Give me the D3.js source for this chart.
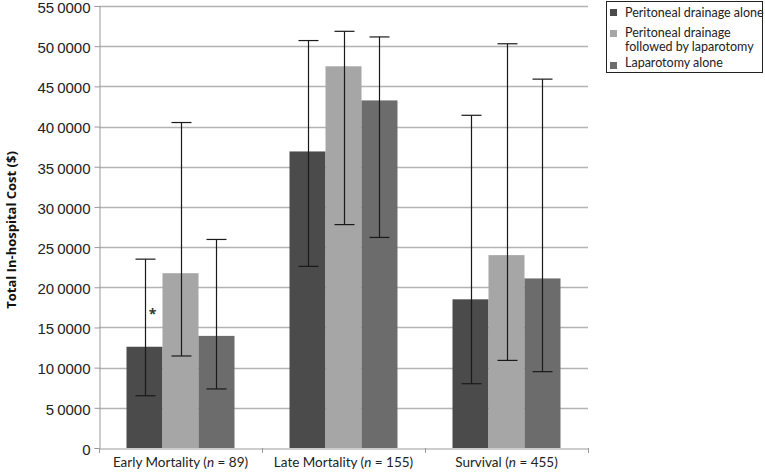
<!DOCTYPE html>
<html><head><meta charset="utf-8">
<script src="https://cdn.jsdelivr.net/npm/d3@7"></script>
<style>body{margin:0;background:#fff}svg{display:block}</style>
</head><body>
<svg id="c" width="765" height="474"></svg>
<script>
const categories = ["Early Mortality", "Late Mortality", "Survival"];
const categoryN = ["89", "155", "455"];
const series = ["Peritoneal drainage alone", "Peritoneal drainage followed by laparotomy", "Laparotomy alone"];
const legendLines = [["Peritoneal drainage alone"], ["Peritoneal drainage", "followed by laparotomy"], ["Laparotomy alone"]];
const colors = ["#4b4b4b", "#a6a6a6", "#6c6c6c"];
// mean values per category, per series
const drainageAlone = [126000, 369000, 185000];
const drainageThenLap = [217500, 475000, 240000];
const lapAlone = [139500, 432500, 211000];
// error bar lows/highs
const drainageAloneLow = [65000, 226000, 80000];
const drainageAloneHigh = [235000, 507000, 414000];
const drainageThenLapLow = [114500, 278000, 109000];
const drainageThenLapHigh = [405000, 518500, 503000];
const lapAloneLow = [73500, 262000, 95000];
const lapAloneHigh = [259500, 511500, 459000];
const yTicks = [0, 50000, 100000, 150000, 200000, 250000, 300000, 350000, 400000, 450000, 500000, 550000];
const yTickLabels = ["0", "5\u20090000", "10\u20090000", "15\u20090000", "20\u20090000", "25\u20090000", "30\u20090000", "35\u20090000", "40\u20090000", "45\u20090000", "50\u20090000", "55\u20090000"];
const asteriskCategory = "Early Mortality";
const asteriskSeries = 0;
const asteriskValue = 168000;

const values = [drainageAlone, drainageThenLap, lapAlone];
const lows = [drainageAloneLow, drainageThenLapLow, lapAloneLow];
const highs = [drainageAloneHigh, drainageThenLapHigh, lapAloneHigh];

const svg = d3.select("#c");
const pLeft = 99, pRight = 588, pTop = 6, pBottom = 448;
const font = "Lato, sans-serif";

const y = d3.scaleLinear().domain([0, 550000]).range([pBottom, pTop]);
const x0 = d3.scaleBand().domain(categories).range([pLeft, pRight]).padding(0);
const x1 = d3.scaleBand().domain(d3.range(series.length)).range([0, x0.bandwidth()]).paddingInner(0).paddingOuter(0.764);

// gridlines
svg.append("g").selectAll("line").data(yTicks.filter(d => d > 0)).join("line")
  .attr("x1", pLeft).attr("x2", pRight)
  .attr("y1", d => Math.round(y(d)) + 0.5).attr("y2", d => Math.round(y(d)) + 0.5)
  .attr("stroke", "#b3b3b3").attr("stroke-width", 1.5);

// y axis
const yAxis = d3.axisLeft(y).tickValues(yTicks).tickSize(5).tickPadding(4)
  .tickFormat((d, i) => yTickLabels[i]);
const gy = svg.append("g").attr("transform", `translate(${pLeft + 0.5},0)`).call(yAxis);
gy.select(".domain").attr("stroke", "#9a9a9a");
gy.selectAll(".tick line").attr("stroke", "#9a9a9a");
gy.selectAll(".tick text").attr("font-family", "Liberation Sans, Arial, sans-serif").attr("font-size", 15)
  .attr("dy", "0.42em").attr("fill", "#222");

// bars
const data = [];
categories.forEach((c, ci) => series.forEach((s, si) => data.push({c, si, v: values[si][ci], lo: lows[si][ci], hi: highs[si][ci]})));
svg.append("g").selectAll("rect").data(data).join("rect")
  .attr("x", d => x0(d.c) + x1(d.si))
  .attr("width", x1.bandwidth())
  .attr("y", d => y(d.v))
  .attr("height", d => y(0) - y(d.v))
  .attr("fill", d => colors[d.si]);

// x axis
const xAxis = d3.axisBottom(x0).tickSize(0).tickFormat("");
const gx = svg.append("g").attr("transform", `translate(0,${pBottom + 0.5})`).call(xAxis);
gx.select(".domain").attr("stroke", "#9a9a9a");
svg.append("g").selectAll("line").data([pLeft, ...categories.map(c => x0(c) + x0.bandwidth())]).join("line")
  .attr("x1", d => d + 0.5).attr("x2", d => d + 0.5).attr("y1", pBottom).attr("y2", pBottom + 5)
  .attr("stroke", "#9a9a9a");

// category labels
const lab = svg.append("g").selectAll("text").data(categories).join("text")
  .attr("x", c => x0(c) + x0.bandwidth() / 2).attr("y", 467)
  .attr("text-anchor", "middle").attr("font-family", font).attr("font-size", 13.5).attr("fill", "#222");
lab.each(function(c, i) {
  const t = d3.select(this);
  t.append("tspan").text(c + " (");
  t.append("tspan").attr("font-style", "italic").text("n");
  t.append("tspan").text(" = " + categoryN[i] + ")");
});

// error bars
const eb = svg.append("g").attr("stroke", "#1a1a1a").attr("stroke-width", 1.2);
data.forEach(d => {
  const cx = Math.round(x0(d.c) + x1(d.si) + x1.bandwidth() / 2) + 0.5;
  eb.append("line").attr("x1", cx).attr("x2", cx).attr("y1", y(d.hi)).attr("y2", y(d.lo));
  eb.append("line").attr("x1", cx - 10).attr("x2", cx + 10).attr("y1", y(d.hi)).attr("y2", y(d.hi));
  eb.append("line").attr("x1", cx - 10).attr("x2", cx + 10).attr("y1", y(d.lo)).attr("y2", y(d.lo));
});

// asterisk
svg.append("text")
  .attr("x", x0(asteriskCategory) + x1(asteriskSeries) + x1.bandwidth() / 2 + 8)
  .attr("y", y(asteriskValue) + 6)
  .attr("text-anchor", "middle").attr("font-family", "Open Sans, sans-serif").attr("font-size", 14).attr("font-weight", "bold").attr("fill", "#333")
  .text("*");

// y title
svg.append("text")
  .attr("transform", `translate(16,230) rotate(-90)`)
  .attr("text-anchor", "middle").attr("font-family", "Open Sans, sans-serif").attr("font-size", 13).attr("font-weight", "bold").attr("fill", "#111")
  .text("Total In-hospital Cost ($)");

// legend
const lg = svg.append("g");
lg.append("rect").attr("x", 606.5).attr("y", 1.5).attr("width", 156).attr("height", 71)
  .attr("fill", "#fff").attr("stroke", "#222").attr("stroke-width", 1);
const squareY = [9, 30, 62];
const lineY = [[16.5], [37, 51], [67]];
legendLines.forEach((lines, i) => {
  lg.append("rect").attr("x", 610).attr("y", squareY[i]).attr("width", 7).attr("height", 7).attr("fill", colors[i]);
  const t = lg.append("text").attr("font-family", font).attr("font-size", 12.5).attr("fill", "#222");
  lines.forEach((l, j) => t.append("tspan").attr("x", 625).attr("y", lineY[i][j]).text(l));
});
</script>
</body></html>
